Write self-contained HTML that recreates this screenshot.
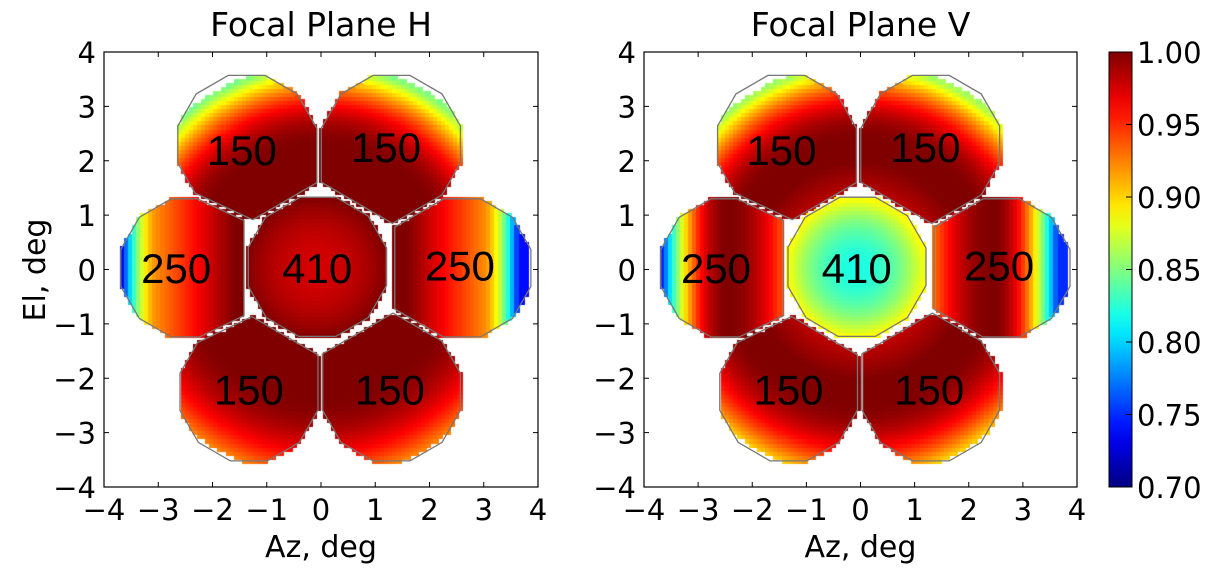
<!DOCTYPE html>
<html><head><meta charset="utf-8">
<style>
html,body{margin:0;padding:0;background:#fff;}
#wrap{position:relative;width:1226px;height:572px;overflow:hidden;font-family:"DejaVu Sans",sans-serif;}
canvas,svg{position:absolute;left:0;top:0;}
</style></head>
<body>
<div id="wrap">
<canvas id="cv" width="1226" height="572"></canvas>
<svg id="sv" width="1226" height="572" xmlns="http://www.w3.org/2000/svg"></svg>
</div>
<script>
// ---- data ----
const detectorX = [-1.37, 1.30, -2.42, -0.07, 2.60, -1.33, 1.30];
const detectorY = [2.30, 2.30, 0.03, 0.05, 0.03, -2.25, -2.25];
const detectorBand = ["150","150","250","410","250","150","150"];
const labelX = [-1.46, 1.20, -2.67, -0.07, 2.56, -1.33, 1.27];
const labelY = [2.20, 2.25, 0.03, 0.03, 0.07, -2.21, -2.21];
const plotTitles = ["Focal Plane H", "Focal Plane V"];
const axisTicks = [-4,-3,-2,-1,0,1,2,3,4];
const cbarTicks = [0.70,0.75,0.80,0.85,0.90,0.95,1.00];
// per-plot model parameters (efficiency values)
const center410Min = [0.975, 0.82];
const center410Edge = [1.0, 0.89];
const edge250Min = [0.74, 0.75];
const top150Min = [0.86, 0.87];
const bottom150Min = [0.93, 0.91];

const NS="http://www.w3.org/2000/svg";
const svg=document.getElementById('sv');
const ctx=document.getElementById('cv').getContext('2d');
const plots=[{x0:104,x1:538},{x0:644,x1:1077}];
const yTop=52,yBot=487;
const APO=1.27, APO410=1.28, APO_IN=1.9, GAP=0.04, HEX=1.35, HX=-0.03, HY=0.02, RMAX=3.8, CELL=0.075;
const C=3; // index of central detector

function sx(p,v){return plots[p].x0+(v+4)/8*(plots[p].x1-plots[p].x0);}
function sy(v){return yTop+(4-v)/8*(yBot-yTop);}
function clamp(a){return Math.max(0,Math.min(1,a));}
function jet(val){const t=clamp((val-0.7)/0.3);
 const r=clamp(1.5-Math.abs(4*t-3)),g=clamp(1.5-Math.abs(4*t-2)),b=clamp(1.5-Math.abs(4*t-1));
 return `rgb(${Math.round(r*255)},${Math.round(g*255)},${Math.round(b*255)})`;}

function value(p,i,x,y){
 const band=detectorBand[i];
 const dx=x-detectorX[i],dy=y-detectorY[i],d=Math.hypot(dx,dy);
 if(band==="410"){return center410Min[p]+(center410Edge[p]-center410Min[p])*Math.min(1,(d/1.3)**2);}
 const ax=Math.min(Math.abs(x),3.65);
 const r=Math.hypot(x,y);
 if(p===0){
  if(band==="250"){
    const lin=0.055*(3.65-1.6);
    const steep=(1-edge250Min[0]-lin)/Math.pow(0.65,1.9);
    return 1-0.055*Math.max(0,ax-1.6)-steep*Math.pow(Math.max(0,ax-3.0),1.9);}
  const lim=y>0?top150Min[0]:bottom150Min[0];
  const k=(1-lim)/(1.43*1.43);
  return 1-k*Math.max(0,r-2.3)**2;
 } else {
  if(band==="250"){ const k=(1-edge250Min[1])/(1.2*1.2);
    const o=ax>2.45?k*(ax-2.45)**2:0.06*(2.45-ax)**2; return 1-o;}
  const lim=y>0?top150Min[1]:bottom150Min[1];
  const k=(1-lim)/(1.33*1.33);
  return 1-k*Math.max(0,r-2.4)**2-0.03*Math.max(0,2.0-r);
 }
}

// half-planes [nx,ny,c] meaning nx*x+ny*y <= c
function halfPlanes(i){
 const hp=[];
 const L=Math.hypot(detectorX[i],detectorY[i]);
 const ux=L>0.5?-detectorX[i]/L:0, uy=L>0.5?-detectorY[i]/L:0;
 for(let k=0;k<12;k++){const a=k*Math.PI/6;const nx=Math.cos(a),ny=Math.sin(a);
  const lim=i===C?APO410:((nx*ux+ny*uy>0.3)?APO_IN:APO);
  hp.push([nx,ny,detectorX[i]*nx+detectorY[i]*ny+lim]);}
 if(i===C){
  for(let k=0;k<6;k++){const a=k*Math.PI/3;const nx=Math.cos(a),ny=Math.sin(a);
   hp.push([nx,ny,HX*nx+HY*ny+HEX-GAP]);}
 } else {
  const ang=Math.atan2(detectorY[i]-HY,detectorX[i]-HX);
  const a=Math.round(ang/(Math.PI/3))*Math.PI/3;const nx=Math.cos(a),ny=Math.sin(a);
  hp.push([-nx,-ny,-(HX*nx+HY*ny+HEX+GAP)]);
  for(let j=0;j<7;j++){if(j===i||j===C)continue;
   const wx=detectorX[j]-detectorX[i],wy=detectorY[j]-detectorY[i],L2=Math.hypot(wx,wy);if(L2>3.2)continue;
   const mx=wx/L2,my=wy/L2,cx=(detectorX[i]+detectorX[j])/2,cy=(detectorY[i]+detectorY[j])/2;
   hp.push([mx,my,cx*mx+cy*my-GAP]);}
 }
 return hp;
}
const HP=[];for(let i=0;i<7;i++)HP.push(halfPlanes(i));
function inside(i,x,y){for(const h of HP[i]){if(x*h[0]+y*h[1]>h[2])return false;}return true;}

// heatmap cells
for(let p=0;p<2;p++){
 for(let gx=-4;gx<4;gx+=CELL){
  for(let gy=-4;gy<4;gy+=CELL){
   const x=gx+CELL/2,y=gy+CELL/2;
   if(Math.hypot(x,y)>RMAX) continue;
   let det=-1;
   for(let i=0;i<7;i++){if(inside(i,x,y)){det=i;break;}}
   if(det<0) continue;
   ctx.fillStyle=jet(value(p,det,x,y));
   const px=sx(p,gx),py=sy(gy+CELL);
   ctx.fillRect(Math.floor(px),Math.floor(py),Math.ceil(sx(p,gx+CELL)-px)+1,Math.ceil(sy(gy)-py)+1);
  }
 }
}

function el(tag,attrs,parent){const e=document.createElementNS(NS,tag);for(const k in attrs)e.setAttribute(k,attrs[k]);(parent||svg).appendChild(e);return e;}

function clipPoly(poly,nx,ny,c){const out=[];for(let k=0;k<poly.length;k++){const a=poly[k],b=poly[(k+1)%poly.length];
 const fa=a[0]*nx+a[1]*ny-c,fb=b[0]*nx+b[1]*ny-c;
 if(fa<=0)out.push(a);
 if((fa<0&&fb>0)||(fa>0&&fb<0)){const t=fa/(fa-fb);out.push([a[0]+t*(b[0]-a[0]),a[1]+t*(b[1]-a[1])]);}}
 return out;}
const FONT='"DejaVu Sans","Liberation Sans",sans-serif';
for(let p=0;p<2;p++){
 for(let i=0;i<7;i++){
  let poly=[[-6,-6],[6,-6],[6,6],[-6,6]];
  for(const h of HP[i]) poly=clipPoly(poly,h[0],h[1],h[2]);
  const pg=el('polygon',{points:poly.map(q=>sx(p,q[0]).toFixed(1)+','+sy(q[1]).toFixed(1)).join(' '),fill:'none',stroke:'#777','stroke-width':1.3});
  
  
 }
 for(let i=0;i<7;i++){
  const t=el('text',{x:sx(p,labelX[i]),y:sy(labelY[i])+15,'font-size':42,'text-anchor':'middle',fill:'#000','font-family':'"Liberation Sans","DejaVu Sans",sans-serif'});
  t.textContent=detectorBand[i];
  
  
 }
 const fr=el('rect',{x:plots[p].x0,y:yTop,width:plots[p].x1-plots[p].x0,height:yBot-yTop,fill:'none',stroke:'#000','stroke-width':1.2});
 
 
 for(const v of axisTicks){
  const X=sx(p,v),Y=sy(v);
  el('line',{x1:X,y1:yBot,x2:X,y2:yBot-5,stroke:'#000'});
  el('line',{x1:X,y1:yTop,x2:X,y2:yTop+5,stroke:'#000'});
  el('line',{x1:plots[p].x0,y1:Y,x2:plots[p].x0+5,y2:Y,stroke:'#000'});
  el('line',{x1:plots[p].x1,y1:Y,x2:plots[p].x1-5,y2:Y,stroke:'#000'});
  const lab=(v<0?'\u2212':'')+Math.abs(v);
  const tx=el('text',{x:X,y:yBot+33,'font-size':29,'text-anchor':'middle','font-family':FONT});tx.textContent=lab;
  
  
  const ty=el('text',{x:plots[p].x0-8,y:Y+11,'font-size':29,'text-anchor':'end','font-family':FONT});ty.textContent=lab;
  
  
 }
 const tt=el('text',{x:(plots[p].x0+plots[p].x1)/2,y:36,'font-size':33,'text-anchor':'middle','font-family':FONT});tt.textContent=plotTitles[p];
 
 
 const xt=el('text',{x:(plots[p].x0+plots[p].x1)/2,y:557,'font-size':30,'text-anchor':'middle','font-family':FONT});xt.textContent='Az, deg';
 
 
}
const yt=el('text',{x:0,y:0,'font-size':30,'text-anchor':'middle','font-family':FONT,transform:'translate(45,270) rotate(-90)'});yt.textContent='El, deg';



// colorbar
const cbx=1109,cbw=23;
const defs=el('defs',{});
const lg=el('linearGradient',{id:'jetg',x1:0,y1:1,x2:0,y2:0},defs);
for(let s=0;s<=20;s++){el('stop',{offset:s/20,'stop-color':jet(0.7+0.3*s/20)},lg);}
const cb=el('rect',{x:cbx,y:yTop,width:cbw,height:yBot-yTop,fill:'url(#jetg)',stroke:'#000','stroke-width':1});


for(const v of cbarTicks){
 const Y=yBot-(v-0.7)/0.3*(yBot-yTop);
 el('line',{x1:cbx+cbw,y1:Y,x2:cbx+cbw-6,y2:Y,stroke:'#000'});
 const t=el('text',{x:cbx+cbw+5,y:Y+11,'font-size':29,'font-family':FONT});t.textContent=v.toFixed(2);
 
 
}
</script>
</body></html>
